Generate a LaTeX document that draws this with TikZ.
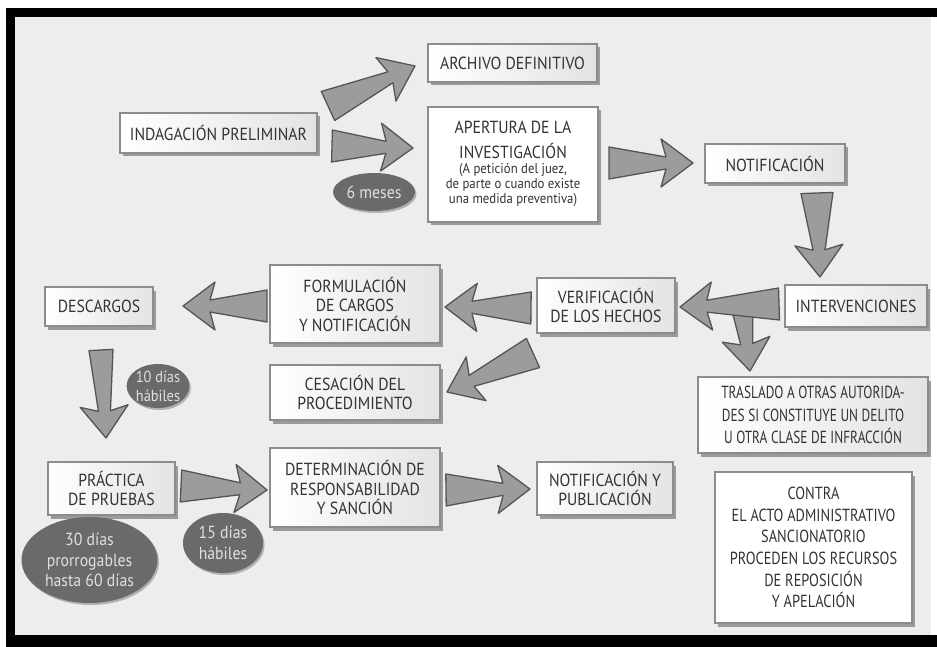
\documentclass[tikz,border=0pt]{standalone}
\usepackage{fontspec}
\setmainfont{PT Sans}[FakeStretch=0.9]
\newfontfamily\midfont{PT Sans}[FakeStretch=0.82]
\newfontfamily\narrowfont{PT Sans}[FakeStretch=0.76]
\usetikzlibrary{calc,shapes.geometric,shadows}
\definecolor{bgcol}{HTML}{EDEDEF}
\definecolor{txt}{HTML}{333333}
\definecolor{arrfill}{HTML}{9C9C9C}
\definecolor{arrline}{HTML}{555555}
\definecolor{ellfill}{HTML}{6A6A6A}
\definecolor{boxline}{HTML}{8C8C8C}
\tikzset{
  box/.style={draw=boxline, line width=1.6pt, left color=white, right color=gray!22,
    align=center, inner sep=1pt, text=txt, rectangle,
    drop shadow={shadow xshift=2.5pt, shadow yshift=-3.5pt, opacity=0.35, fill=black},
    font=\fontsize{17.5}{19.5}\selectfont},
  oval/.style={ellipse, fill=ellfill, text=white!88!black, align=center, inner sep=0pt,
    drop shadow={shadow xshift=1.5pt, shadow yshift=-2pt, opacity=0.25, fill=black},
    font=\fontsize{17.5}{20.5}\selectfont},
  barrow/.style={fill=arrfill, draw=arrline, line width=1.3pt, line join=round}
}
% #1 tail half width, #2 start, #3 tip
\newcommand{\blockarrow}[3][16pt]{%
  \path ($(#3)!32pt!(#2)$) coordinate (bh) ($(#3)!27pt!(#2)$) coordinate (bn);
  \filldraw[barrow] ($(#2)!#1!90:(#3)$) -- ($(bn)!6pt!-90:(#2)$) -- ($(bh)!24pt!-90:(#2)$)
    -- (#3) -- ($(bh)!24pt!90:(#2)$) -- ($(bn)!6pt!90:(#2)$) -- ($(#2)!#1!-90:(#3)$) -- cycle;}
\begin{document}
\begin{tikzpicture}[x=1pt,y=-1pt]
\useasboundingbox (0,0) rectangle (937,647);
\fill[white] (0,0) rectangle (937,647);
\fill[bgcol] (15,17) rectangle (931,635);
\fill[black] (6,8) rectangle (937,17);
\fill[black] (6,8) rectangle (15,647);
\fill[black] (6,635) rectangle (937,647);

% boxes
\node[box, minimum width=197pt, minimum height=40pt] (indag) at (218.5,133) {INDAGACIÓN PRELIMINAR};
\node[box, minimum width=169pt, minimum height=38pt] (archivo) at (512.5,63) {ARCHIVO DEFINITIVO};
\node[box, minimum width=170pt, minimum height=115pt, left color=white, right color=white,
  font=\fontsize{14.2}{15}\selectfont] (apertura) at (513,164.5)
  {\begin{tabular}{@{}c@{}}
   \fontsize{17.5}{23}\selectfont APERTURA DE LA\\[5pt]
   \fontsize{17.5}{23}\selectfont INVESTIGACIÓN\\[0pt]
   (A petición del juez,\\
   de parte o cuando existe\\
   una medida preventiva)
   \end{tabular}};
\node[box, minimum width=140pt, minimum height=39pt] (notif) at (775,163.5) {NOTIFICACIÓN};
\node[box, minimum width=142pt, minimum height=42pt] (interv) at (856,306) {INTERVENCIONES};
\node[box, minimum width=138pt, minimum height=55pt] (verif) at (606,305.5) {VERIFICACIÓN\\ DE LOS HECHOS};
\node[box, minimum width=230pt, minimum height=76pt, font=\narrowfont\fontsize{17.5}{22.5}\selectfont] (traslado) at (813,415)
  {TRASLADO A OTRAS AUTORIDA-\\ DES SI CONSTITUYE UN DELITO\\ U OTRA CLASE DE INFRACCIÓN};
\node[box, minimum width=170pt, minimum height=78pt] (formul) at (355,304) {FORMULACIÓN\\ DE CARGOS\\ Y NOTIFICACIÓN};
\node[box, minimum width=170pt, minimum height=55pt] (cesacion) at (355,392.5) {CESACIÓN DEL\\ PROCEDIMIENTO};
\node[box, minimum width=108pt, minimum height=39pt] (descargos) at (99,306.5) {DESCARGOS};
\node[box, minimum width=127pt, minimum height=53pt] (practica) at (111.5,488.5) {PRÁCTICA\\ DE PRUEBAS};
\node[box, minimum width=170pt, minimum height=79pt] (determ) at (355,487.5) {DETERMINACIÓN DE\\ RESPONSABILIDAD\\ Y SANCIÓN};
\node[box, minimum width=136pt, minimum height=53pt] (notifpub) at (605,488.5) {NOTIFICACIÓN Y\\ PUBLICACIÓN};
\node[box, minimum width=197pt, minimum height=151pt, left color=white, right color=white,
  font=\midfont\fontsize{17.5}{21.6}\selectfont] (contra) at (813.5,547.5)
  {CONTRA\\ EL ACTO ADMINISTRATIVO\\ SANCIONATORIO\\ PROCEDEN LOS RECURSOS\\ DE REPOSICIÓN\\ Y APELACIÓN};

% ovals
\node[oval, minimum width=82pt, minimum height=38pt] (m6) at (374,192) {6 meses};
\node[oval, minimum width=60pt, minimum height=44pt, inner sep=0pt, font=\fontsize{16}{19}\selectfont] (d10) at (158,386) {10 días\\ hábiles};
\node[oval, minimum width=136pt, minimum height=86pt, inner sep=-6pt] (d30) at (89.5,560) {30 días\\ prorrogables\\ hasta 60 días};
\node[oval, minimum width=80pt, minimum height=60pt] (d15) at (223,543) {15 días\\ hábiles};

% arrow end points
\coordinate (a1s) at (328,106);   \coordinate (a1t) at (415,66);
\coordinate (a2s) at (332,146);   \coordinate (a2t) at (413,148);
\coordinate (a3s) at (609,163);   \coordinate (a3t) at (693,163);
\coordinate (a4s) at (817,193);   \coordinate (a4t) at (820,277);
\coordinate (a5s) at (779,304);   \coordinate (a5t) at (680,307);
\coordinate (a6s) at (741,298);   \coordinate (a6t) at (750,371);
\coordinate (a7s) at (531,308);   \coordinate (a7t) at (445,307);
\coordinate (a8s) at (533,353);   \coordinate (a8t) at (447,392);
\coordinate (a9s) at (267,306);   \coordinate (a9t) at (183,306);
\coordinate (a10s) at (101,350);  \coordinate (a10t) at (106,438);
\coordinate (a11s) at (181,486);  \coordinate (a11t) at (267,490);
\coordinate (a12s) at (446,490);  \coordinate (a12t) at (530,489);

\blockarrow{a1s}{a1t}
\blockarrow{a2s}{a2t}
\blockarrow{a3s}{a3t}
\blockarrow{a4s}{a4t}
\blockarrow[12pt]{a6s}{a6t}
\blockarrow{a5s}{a5t}
\blockarrow{a7s}{a7t}
\blockarrow{a8s}{a8t}
\blockarrow{a9s}{a9t}
\blockarrow[12pt]{a10s}{a10t}
\blockarrow{a11s}{a11t}
\blockarrow{a12s}{a12t}
\end{tikzpicture}
\end{document}
